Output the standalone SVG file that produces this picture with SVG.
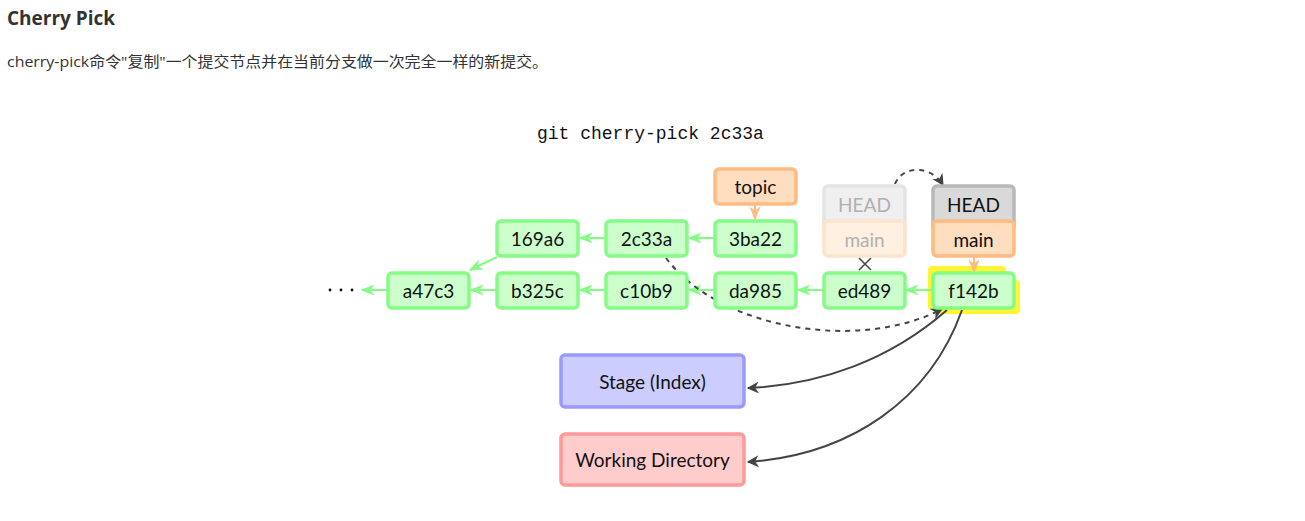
<svg xmlns="http://www.w3.org/2000/svg" width="1305" height="521" viewBox="0 0 1305 521">
<style>
.hdr{font-family:"Open Sans","Noto Sans CJK SC",sans-serif;font-weight:bold;font-size:19px;fill:#333}
.desc{font-family:"Open Sans","Noto Sans CJK SC",sans-serif;font-size:15px;fill:#333}
.cmd{font-family:"Liberation Mono",monospace;font-size:18px;fill:#111}
.lbl{font-family:Lato,"Open Sans",sans-serif;font-size:19px;fill:#111;text-anchor:middle;dominant-baseline:central}
.commit{fill:#ccffcc;stroke:#85fb85;stroke-width:3.5}
.branch{fill:#ffddbf;stroke:#ffbb80;stroke-width:3.5}
.head{fill:#d9d9d9;stroke:#b8b8b8;stroke-width:3.5}
.ohead{fill:#efefef;stroke:#e4e4e4;stroke-width:3.5}
.obranch{fill:#fff0e2;stroke:#fde2cc;stroke-width:3.5}
.faded{fill:#b0b0b0}
.gl{stroke:#85fb85;stroke-width:2;fill:none}
.ol{stroke:#ffbb80;stroke-width:2;fill:none}
.dk{stroke:#444;stroke-width:2;fill:none}
.dash{stroke-dasharray:5,5}
</style>
<defs>
<marker id="ag" viewBox="0 0 10 10" refX="9" refY="5" markerWidth="7" markerHeight="7" orient="auto"><path d="M0,1 L10,5 L0,9 L3,5 Z" fill="#85fb85"/></marker>
<marker id="ao" viewBox="0 0 10 10" refX="9" refY="5" markerWidth="7" markerHeight="7" orient="auto"><path d="M0,1 L10,5 L0,9 L3,5 Z" fill="#ffbb80"/></marker>
<marker id="ak" viewBox="0 0 10 10" refX="9" refY="5" markerWidth="6" markerHeight="6" orient="auto"><path d="M0,0 L10,5 L0,10 L3,5 Z" fill="#444"/></marker>
</defs>
<text class="hdr" x="7" y="25">Cherry Pick</text>
<text class="desc" x="7" y="67" textLength="541" lengthAdjust="spacingAndGlyphs">cherry-pick命令"复制"一个提交节点并在当前分支做一次完全一样的新提交。</text>
<text class="cmd" x="537" y="139">git cherry-pick 2c33a</text>

<g id="highlight">
<rect x="928" y="266" width="78" height="44" rx="4" fill="#fff533"/>
<rect x="938" y="280" width="82" height="34" rx="4" fill="#fff533"/>
</g>

<g id="connectors">
<line class="gl" x1="388" y1="290" x2="362" y2="290" marker-end="url(#ag)"/>
<line class="gl" x1="497" y1="290" x2="471" y2="290" marker-end="url(#ag)"/>
<line class="gl" x1="606" y1="290" x2="580" y2="290" marker-end="url(#ag)"/>
<line class="gl" x1="715" y1="290" x2="689" y2="290" marker-end="url(#ag)"/>
<line class="gl" x1="824" y1="290" x2="798" y2="290" marker-end="url(#ag)"/>
<line class="gl" x1="932" y1="290" x2="906" y2="290" marker-end="url(#ag)"/>
<line class="gl" x1="606" y1="238" x2="580" y2="238" marker-end="url(#ag)"/>
<line class="gl" x1="715" y1="238" x2="689" y2="238" marker-end="url(#ag)"/>
<line class="gl" x1="497" y1="257" x2="470" y2="270" marker-end="url(#ag)"/>
<line class="ol" x1="755" y1="204" x2="755" y2="219" marker-end="url(#ao)"/>
<line class="ol" x1="974" y1="257" x2="974" y2="272" marker-end="url(#ao)"/>
<path class="dk dash" d="M895,184 C902,166 930,164 943,185" marker-end="url(#ak)"/>
<path class="dk dash" d="M666,258 C720,330 860,352 942,309" marker-end="url(#ak)"/>
<path class="dk" d="M947,310 C890,360 820,385 748,388" marker-end="url(#ak)"/>
<path class="dk" d="M962,310 C930,400 850,455 748,462" marker-end="url(#ak)"/>
<path d="M859,258 L871,270 M871,258 L859,270" stroke="#444" stroke-width="1.5"/>
</g>

<g id="dots" fill="#111"><circle cx="330" cy="290" r="1.4"/><circle cx="341" cy="290" r="1.4"/><circle cx="352" cy="290" r="1.4"/></g>

<g id="n-a47c3"><rect class="commit" x="388" y="273" width="81" height="35" rx="4"/><text class="lbl" x="428.5" y="290.5">a47c3</text></g>
<g id="n-b325c"><rect class="commit" x="497" y="273" width="81" height="35" rx="4"/><text class="lbl" x="537.5" y="290.5">b325c</text></g>
<g id="n-c10b9"><rect class="commit" x="606" y="273" width="81" height="35" rx="4"/><text class="lbl" x="646.5" y="290.5">c10b9</text></g>
<g id="n-da985"><rect class="commit" x="715" y="273" width="81" height="35" rx="4"/><text class="lbl" x="755.5" y="290.5">da985</text></g>
<g id="n-ed489"><rect class="commit" x="824" y="273" width="81" height="35" rx="4"/><text class="lbl" x="864.5" y="290.5">ed489</text></g>
<g id="n-f142b"><rect class="commit" x="933" y="273" width="81" height="35" rx="4"/><text class="lbl" x="973.5" y="290.5">f142b</text></g>
<g id="n-169a6"><rect class="commit" x="497" y="221" width="81" height="35" rx="4"/><text class="lbl" x="537.5" y="238.5">169a6</text></g>
<g id="n-2c33a"><rect class="commit" x="606" y="221" width="81" height="35" rx="4"/><text class="lbl" x="646.5" y="238.5">2c33a</text></g>
<g id="n-3ba22"><rect class="commit" x="715" y="221" width="81" height="35" rx="4"/><text class="lbl" x="755.5" y="238.5">3ba22</text></g>
<g id="n-topic"><rect class="branch" x="715" y="169" width="81" height="35" rx="4"/><text class="lbl" x="755.5" y="186">topic</text></g>

<g id="n-oldhead"><rect class="ohead" x="824" y="186" width="81" height="45" rx="4"/><text class="lbl faded" x="864.5" y="204">HEAD</text></g>
<g id="n-oldmain"><rect class="obranch" x="824" y="221" width="81" height="35" rx="4"/><text class="lbl faded" x="864.5" y="239">main</text></g>
<g id="n-head"><rect class="head" x="933" y="186" width="81" height="45" rx="4"/><text class="lbl" x="973.5" y="204">HEAD</text></g>
<g id="n-main"><rect class="branch" x="933" y="221" width="81" height="35" rx="4"/><text class="lbl" x="973.5" y="239">main</text></g>

<g id="n-stage"><rect x="561" y="355" width="183" height="52" rx="4" fill="#ccccff" stroke="#9999ff" stroke-width="3.5"/><text class="lbl" x="652.5" y="381">Stage (Index)</text></g>
<g id="n-wd"><rect x="561" y="434" width="183" height="51" rx="4" fill="#ffcccc" stroke="#ff9999" stroke-width="3.5"/><text class="lbl" x="652.5" y="459">Working Directory</text></g>
</svg>
